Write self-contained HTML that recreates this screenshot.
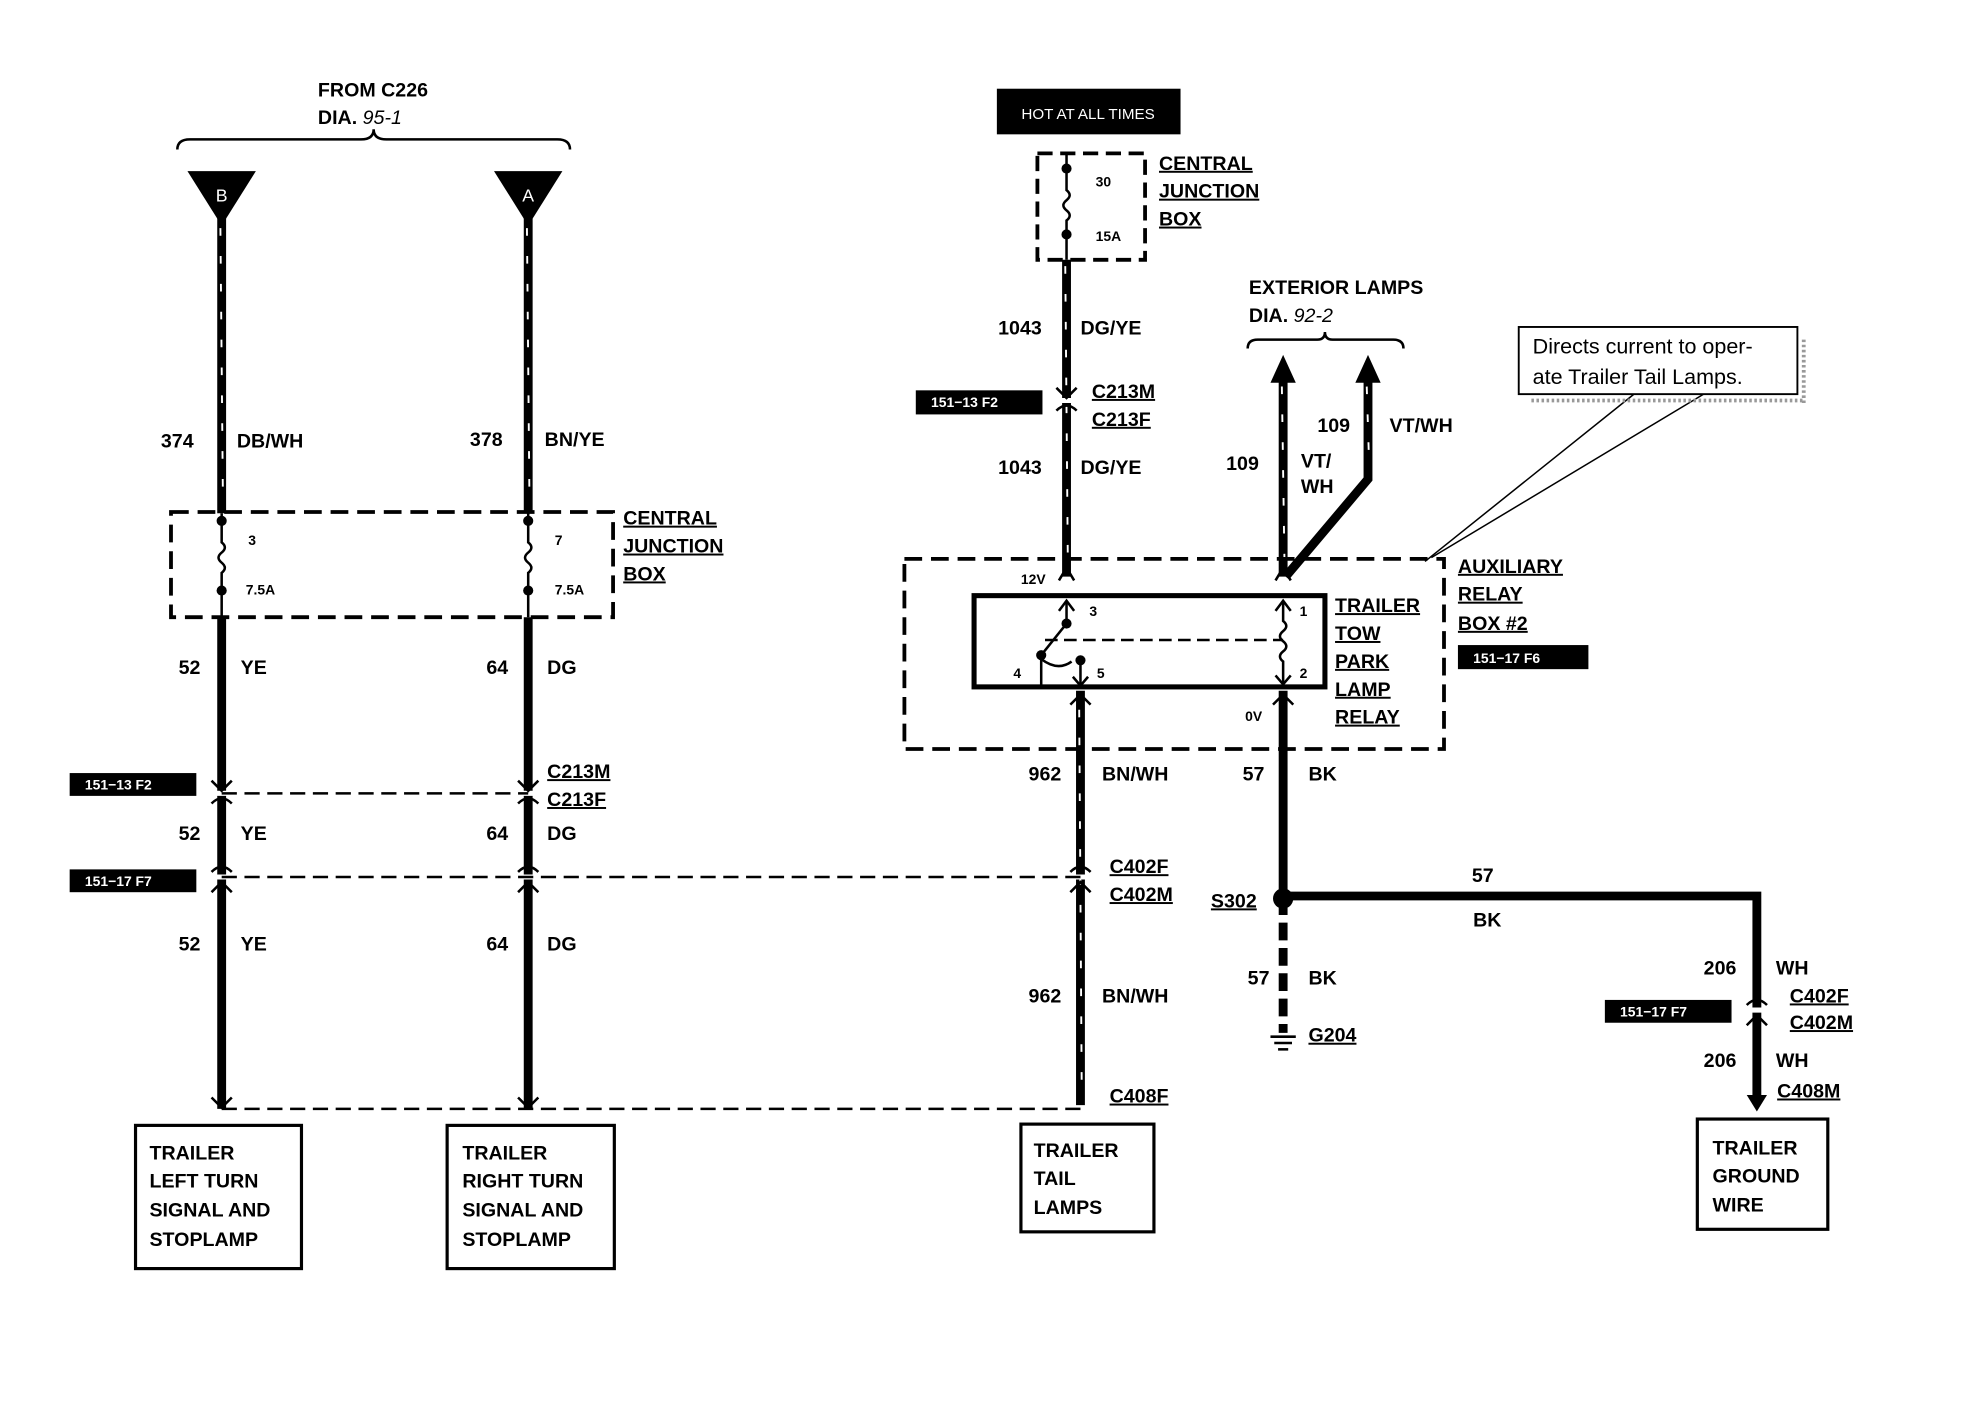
<!DOCTYPE html>
<html><head><meta charset="utf-8"><style>
html,body{margin:0;padding:0;background:#fff;}
svg{display:block}
text{font-family:"Liberation Sans",sans-serif;font-weight:bold;font-size:15.5px;fill:#000}
.s{font-size:11px}
.w{fill:#fff}
.n{font-weight:normal;font-size:17px}
</style></head><body>
<svg width="1976" height="1408" viewBox="0 0 1560 1111" preserveAspectRatio="none" xmlns="http://www.w3.org/2000/svg">
<rect width="1560" height="1111" fill="#fff"/>
<g stroke="#000" fill="none">
<path d="M140 118 Q140 110 150 110 L285 110 Q295 110 295 102 Q295 110 305 110 L440 110 Q450 110 450 118" stroke-width="2"/>
<line x1="175" y1="170" x2="175" y2="405" stroke-width="7"/>
<line x1="175" y1="487" x2="175" y2="875" stroke-width="7"/>
<line x1="417" y1="170" x2="417" y2="405" stroke-width="7"/>
<line x1="417" y1="487" x2="417" y2="875" stroke-width="7"/>
<line x1="842" y1="205" x2="842" y2="455" stroke-width="7"/>
<line x1="853" y1="545" x2="853" y2="872" stroke-width="7"/>
<line x1="1013" y1="300" x2="1013" y2="455" stroke-width="7"/>
<polyline points="1080,300 1080,378 1015,455" stroke-width="7"/>
<line x1="1013" y1="545" x2="1013" y2="708" stroke-width="7"/>
<line x1="1013" y1="708" x2="1013" y2="815" stroke-width="7" stroke-dasharray="14,6"/>
<polyline points="1013,707 1387,707 1387,868" stroke-width="7"/>
<g stroke="#fff" stroke-width="1.5" stroke-dasharray="6,16">
<line x1="174" y1="180" x2="176" y2="395"/><line x1="416" y1="180" x2="418" y2="395"/>
<line x1="841" y1="210" x2="843" y2="440"/><line x1="852" y1="560" x2="854" y2="860"/>
<line x1="1012" y1="305" x2="1014" y2="440"/><line x1="1079" y1="305" x2="1081" y2="370"/>
</g>
<g stroke="#fff" stroke-width="4">
<line x1="168" y1="626" x2="182" y2="626"/><line x1="410" y1="626" x2="424" y2="626"/>
<line x1="168" y1="692" x2="182" y2="692"/><line x1="410" y1="692" x2="424" y2="692"/>
<line x1="835" y1="316" x2="849" y2="316"/><line x1="846" y1="692" x2="860" y2="692"/>
<line x1="1380" y1="797" x2="1394" y2="797"/>
</g>
<g stroke-width="2">
<path d="M167 616 L175 624 L183 616"/><path d="M167 634 Q175 626 183 634"/>
<path d="M409 616 L417 624 L425 616"/><path d="M409 634 Q417 626 425 634"/>
<path d="M167 688 Q175 680 183 688"/><path d="M167 704 L175 696 L183 704"/>
<path d="M409 688 Q417 680 425 688"/><path d="M409 704 L417 696 L425 704"/>
<path d="M834 306 L842 314 L850 306"/><path d="M834 324 Q842 316 850 324"/>
<path d="M845 688 Q853 680 861 688"/><path d="M845 704 L853 696 L861 704"/>
<path d="M1379 793 Q1387 785 1395 793"/><path d="M1379 809 L1387 801 L1395 809"/>
<path d="M167 866 L175 874 L183 866"/><path d="M409 866 L417 874 L425 866"/>
</g>
<g stroke-width="2" stroke-dasharray="12,6">
<line x1="175" y1="626" x2="417" y2="626"/>
<line x1="175" y1="692" x2="853" y2="692"/>
<line x1="175" y1="875" x2="853" y2="875"/>
</g>
<rect x="135" y="404" width="349" height="83" stroke-width="3" stroke-dasharray="14,7"/>
<rect x="819" y="121" width="85" height="84" stroke-width="3" stroke-dasharray="12,6"/>
<rect x="714" y="441" width="426" height="150" stroke-width="3" stroke-dasharray="14,7"/>
<rect x="769" y="470" width="277" height="72" stroke-width="4"/>
<g stroke-width="2">
<path d="M175 405 V428 q5 4 0 8 q-5 4 0 8 q5 4 0 8 V487"/>
<path d="M417 405 V428 q5 4 0 8 q-5 4 0 8 q5 4 0 8 V487"/>
<path d="M842 121 V150 q5 4 0 8 q-5 4 0 8 q5 4 0 8 V205"/>
</g>
<path d="M985 275 Q985 268 993 268 L1040 268 Q1046 268 1046 262 Q1046 268 1052 268 L1100 268 Q1108 268 1108 275" stroke-width="2"/>
<g stroke-width="2">
<path d="M836 482 L842 474 L848 482"/><line x1="842" y1="474" x2="842" y2="492"/>
<line x1="842" y1="492" x2="822" y2="517"/>
<line x1="822" y1="517" x2="822" y2="542"/>
<path d="M822 520 Q835 530 846 522"/>
<line x1="853" y1="522" x2="853" y2="542"/><path d="M847 534 L853 541 L859 534"/>
<path d="M1013 474 V490 q5 4 0 8 q-5 4 0 8 q5 4 0 8 q-5 4 0 8 V540"/>
<path d="M1007 482 L1013 474 L1019 482"/><path d="M1007 533 L1013 540 L1019 533"/>
<line x1="825" y1="505" x2="1013" y2="505" stroke-dasharray="10,5"/>
<path d="M836 458 L842 448 L848 458"/><path d="M1007 458 L1013 448 L1019 458"/>
<path d="M845 556 L853 548 L861 556"/><path d="M1005 556 L1013 548 L1021 556"/>
</g>
<g stroke-width="1.2">
<line x1="1290" y1="311" x2="1125" y2="443"/><line x1="1345" y1="311" x2="1130" y2="440"/>
</g>
<rect x="1199" y="258" width="220" height="53" stroke-width="1.5" fill="#fff"/>
<g stroke="#999" stroke-width="3" stroke-dasharray="2,2"><line x1="1424" y1="268" x2="1424" y2="318"/><line x1="1209" y1="316" x2="1424" y2="316"/></g>
<rect x="107" y="888" width="131" height="113" stroke-width="2.5"/>
<rect x="353" y="888" width="132" height="113" stroke-width="2.5"/>
<rect x="806" y="887" width="105" height="85" stroke-width="2.5"/>
<rect x="1340" y="883" width="103" height="87" stroke-width="2.5"/>
<g stroke-width="2"><line x1="1003" y1="818" x2="1023" y2="818"/><line x1="1006" y1="823" x2="1020" y2="823"/><line x1="1009" y1="828" x2="1017" y2="828"/></g>
</g>
<polygon points="148,135 202,135 175,178" fill="#000"/>
<polygon points="390,135 444,135 417,178" fill="#000"/>
<text x="175" y="159" class="w" text-anchor="middle" style="font-weight:normal;font-size:14px">B</text>
<text x="417" y="159" class="w" text-anchor="middle" style="font-weight:normal;font-size:14px">A</text>
<polygon points="1003,302 1013,280 1023,302" fill="#000"/>
<polygon points="1070,302 1080,280 1090,302" fill="#000"/>
<polygon points="1379,864 1395,864 1387,877" fill="#000"/>
<g fill="#000">
<circle cx="175" cy="411" r="4"/><circle cx="175" cy="466" r="4"/>
<circle cx="417" cy="411" r="4"/><circle cx="417" cy="466" r="4"/>
<circle cx="842" cy="133" r="4"/><circle cx="842" cy="185" r="4"/>
<circle cx="1013" cy="709" r="8"/>
<circle cx="842" cy="492" r="4"/><circle cx="822" cy="517" r="4"/><circle cx="853" cy="521" r="4"/>
</g>
<rect x="787" y="70" width="145" height="36" fill="#000"/><text x="859" y="94" class="w s" text-anchor="middle" style="font-weight:normal;font-size:12px">HOT AT ALL TIMES</text>
<rect x="55" y="610" width="100" height="18" fill="#000"/><text x="67" y="623" class="w s">151−13 F2</text>
<rect x="55" y="686" width="100" height="18" fill="#000"/><text x="67" y="699" class="w s">151−17 F7</text>
<rect x="723" y="308" width="100" height="19" fill="#000"/><text x="735" y="321" class="w s">151−13 F2</text>
<rect x="1151" y="509" width="103" height="19" fill="#000"/><text x="1163" y="523" class="w s">151−17 F6</text>
<rect x="1267" y="789" width="100" height="18" fill="#000"/><text x="1279" y="802" class="w s">151−17 F7</text>
<text x="251" y="76">FROM C226</text>
<text x="251" y="98">DIA. <tspan style="font-style:italic;font-weight:normal">95-1</tspan></text>
<text x="127" y="353">374</text><text x="187" y="353">DB/WH</text>
<text x="371" y="352">378</text><text x="430" y="352">BN/YE</text>
<text x="196" y="430" class="s">3</text><text x="194" y="469" class="s">7.5A</text>
<text x="438" y="430" class="s">7</text><text x="438" y="469" class="s">7.5A</text>
<g text-decoration="underline">
<text x="492" y="414">CENTRAL</text><text x="492" y="436">JUNCTION</text><text x="492" y="458">BOX</text>
<text x="915" y="134">CENTRAL</text><text x="915" y="156">JUNCTION</text><text x="915" y="178">BOX</text>
<text x="1054" y="483">TRAILER</text><text x="1054" y="505">TOW</text><text x="1054" y="527">PARK</text><text x="1054" y="549">LAMP</text><text x="1054" y="571">RELAY</text>
<text x="1151" y="452">AUXILIARY</text><text x="1151" y="474">RELAY</text><text x="1151" y="497">BOX #2</text>
<text x="432" y="614">C213M</text><text x="432" y="636">C213F</text>
<text x="862" y="314">C213M</text><text x="862" y="336">C213F</text>
<text x="876" y="689">C402F</text><text x="876" y="711">C402M</text>
<text x="876" y="870">C408F</text>
<text x="956" y="716">S302</text><text x="1033" y="822">G204</text>
<text x="1413" y="791">C402F</text><text x="1413" y="812">C402M</text>
<text x="1403" y="866">C408M</text>
</g>
<text x="141" y="532">52</text><text x="190" y="532">YE</text>
<text x="384" y="532">64</text><text x="432" y="532">DG</text>
<text x="141" y="663">52</text><text x="190" y="663">YE</text>
<text x="384" y="663">64</text><text x="432" y="663">DG</text>
<text x="141" y="750">52</text><text x="190" y="750">YE</text>
<text x="384" y="750">64</text><text x="432" y="750">DG</text>
<text x="865" y="147" class="s">30</text><text x="865" y="190" class="s">15A</text>
<text x="788" y="264">1043</text><text x="853" y="264">DG/YE</text>
<text x="788" y="374">1043</text><text x="853" y="374">DG/YE</text>
<text x="986" y="232">EXTERIOR LAMPS</text>
<text x="986" y="254">DIA. <tspan style="font-style:italic;font-weight:normal">92-2</tspan></text>
<text x="968" y="371">109</text><text x="1027" y="369">VT/</text><text x="1027" y="389">WH</text>
<text x="1040" y="341">109</text><text x="1097" y="341">VT/WH</text>
<text x="1210" y="279" class="n">Directs current to oper-</text>
<text x="1210" y="303" class="n">ate Trailer Tail Lamps.</text>
<text x="806" y="461" class="s">12V</text><text x="983" y="569" class="s">0V</text>
<text x="860" y="486" class="s">3</text><text x="800" y="535" class="s">4</text><text x="866" y="535" class="s">5</text>
<text x="1026" y="486" class="s">1</text><text x="1026" y="535" class="s">2</text>
<text x="812" y="616">962</text><text x="870" y="616">BN/WH</text>
<text x="812" y="791">962</text><text x="870" y="791">BN/WH</text>
<text x="981" y="616">57</text><text x="1033" y="616">BK</text>
<text x="1162" y="696">57</text><text x="1163" y="731">BK</text>
<text x="985" y="777">57</text><text x="1033" y="777">BK</text>
<text x="1345" y="769">206</text><text x="1402" y="769">WH</text>
<text x="1345" y="842">206</text><text x="1402" y="842">WH</text>
<text x="118" y="915">TRAILER</text><text x="118" y="937">LEFT TURN</text><text x="118" y="960">SIGNAL AND</text><text x="118" y="983">STOPLAMP</text>
<text x="365" y="915">TRAILER</text><text x="365" y="937">RIGHT TURN</text><text x="365" y="960">SIGNAL AND</text><text x="365" y="983">STOPLAMP</text>
<text x="816" y="913">TRAILER</text><text x="816" y="935">TAIL</text><text x="816" y="958">LAMPS</text>
<text x="1352" y="911">TRAILER</text><text x="1352" y="933">GROUND</text><text x="1352" y="956">WIRE</text>
</svg>
</body></html>
